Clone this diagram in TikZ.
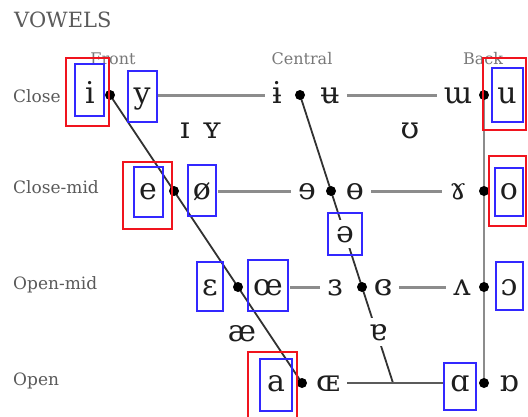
\documentclass[tikz,border=0pt]{standalone}
\usepackage{fontspec}
\setmainfont{DejaVu Serif}
\pgfdeclarelayer{bg}
\pgfsetlayers{bg,main}
\definecolor{ink}{RGB}{30,30,30}
\definecolor{labgray}{RGB}{90,90,90}
\definecolor{headgray}{RGB}{120,120,120}
\definecolor{linegray}{RGB}{140,140,140}
\definecolor{darkline}{RGB}{50,50,50}
\definecolor{boxred}{RGB}{240,20,30}
\definecolor{boxblue}{RGB}{50,40,255}
\tikzset{
  ipa/.style={font=\fontsize{30}{30}\selectfont, text=ink, anchor=base, inner xsep=7pt, inner ysep=2pt},
  ipaw/.style={ipa, fill=white, inner xsep=2pt, inner ysep=6pt},
  rowlab/.style={font=\fontsize{17}{17}\selectfont, text=labgray, anchor=mid west, inner sep=0pt},
  collab/.style={font=\fontsize{16}{16}\selectfont, text=headgray, anchor=base, inner sep=0pt},
  vdot/.style={circle, fill=black, inner sep=0pt, minimum size=10pt},
  hline/.style={draw=linegray, line width=3pt},
  openline/.style={draw=darkline!80, line width=2pt},
  slant/.style={draw=darkline, line width=1.8pt},
  backline/.style={draw=linegray, line width=2.6pt},
  redbox/.style={draw=boxred, line width=2.5pt},
  bluebox/.style={draw=boxblue, line width=2.5pt}
}
\begin{document}
\begin{tikzpicture}[x=1pt,y=-1pt]
\begin{pgfonlayer}{bg}
\fill[white] (0,0) rectangle (528,416);
\end{pgfonlayer}
\useasboundingbox (0,0) rectangle (528,416);

% title and axis labels
\node[font=\fontsize{21}{21}\selectfont, text=labgray, anchor=base west, inner sep=0pt] (title) at (14,27) {VOWELS};
\node[collab] (hfront) at (113,64) {Front};
\node[collab] (hcentral) at (302,64) {Central};
\node[collab] (hback) at (483,64) {Back};
\node[rowlab] (rclose) at (13,100) {Close};
\node[rowlab] (rclosemid) at (13,191) {Close-mid};
\node[rowlab] (ropenmid) at (13,287) {Open-mid};
\node[rowlab] (ropen) at (13,383) {Open};

% positions of the dots on the trapezoid
\coordinate (f1) at (110,95);
\coordinate (f2) at (174,191);
\coordinate (f3) at (238,287);
\coordinate (f4) at (302,383);
\coordinate (c1) at (300,95);
\coordinate (c2) at (331,191);
\coordinate (c3) at (362,287);
\coordinate (c4) at (393,383);
\coordinate (b1) at (484,95);
\coordinate (b2) at (484,191);
\coordinate (b3) at (484,287);
\coordinate (b4) at (484,383);

% close
\node[ipa] (vi) at (90,103) {i};
\node[ipa] (vy) at (142,103) {y};
\node[ipa] (vibar) at (277,103) {ɨ};
\node[ipa] (vubar) at (330,103) {ʉ};
\node[ipa] (vturnm) at (458,103) {ɯ};
\node[ipa] (vu) at (507,103) {u};
% near-close
\node[ipa] (vsmallcapi) at (185,138) {ɪ};
\node[ipa] (vsmallcapy) at (212,138) {ʏ};
\node[ipa] (vupsilon) at (410,138) {ʊ};
% close-mid
\node[ipa] (ve) at (148,199) {e};
\node[ipa] (voslash) at (202,199) {ø};
\node[ipa] (vreve) at (307,199) {ɘ};
\node[ipa] (vbaro) at (355,199) {ɵ};
\node[ipa] (vramshorn) at (458,199) {ɤ};
\node[ipa] (vo) at (509,199) {o};
% mid
\node[ipaw] (vschwa) at (345,242) {ə};
% open-mid
\node[ipa] (veps) at (210,295) {ɛ};
\node[ipa] (voe) at (268,295) {œ};
\node[ipa] (vreveps) at (335,295) {ɜ};
\node[ipa] (vclreveps) at (383,295) {ɞ};
\node[ipa] (vturnv) at (462,295) {ʌ};
\node[ipa] (vopeno) at (509,295) {ɔ};
% near-open
\node[ipa] (vash) at (242,341) {æ};
\node[ipaw] (vturna) at (378,340) {ɐ};
% open
\node[ipa] (va) at (276,391) {a};
\node[ipa] (vOE) at (328,391) {ɶ};
\node[ipa] (valpha) at (460,391) {ɑ};
\node[ipa] (vturnalpha) at (509,391) {ɒ};

% connectors of the chart
\begin{pgfonlayer}{bg}
\draw[slant] (f1) -- (f4);
\draw[slant] (c1) -- (c4);
\draw[backline] (b1) -- (b4);
\draw[hline] (vy.east |- f1) -- (vibar.west |- f1);
\draw[hline] (vubar.east |- c1) -- (vturnm.west |- c1);
\draw[hline] (voslash.east |- f2) -- (vreve.west |- f2);
\draw[hline] (vbaro.east |- c2) -- (vramshorn.west |- c2);
\draw[hline] (voe.east |- f3) -- (vreveps.west |- f3);
\draw[hline] (vclreveps.east |- c3) -- (vturnv.west |- c3);
\draw[openline] (vOE.east |- f4) -- (valpha.west |- f4);
\end{pgfonlayer}

% dots
\foreach \p in {f1,f2,f3,f4,c1,c2,c3,b1,b2,b3,b4}
  \node[vdot] (dot\p) at (\p) {};

% highlight boxes
\draw[redbox] (66,58) rectangle (109,126);
\draw[redbox] (483,58) rectangle (526,130);
\draw[redbox] (123,162) rectangle (172,229);
\draw[redbox] (489,156) rectangle (526,226);
\draw[redbox] (248,352) rectangle (297,420);
\draw[bluebox] (75,64) rectangle (104,116);
\draw[bluebox] (128,71) rectangle (157,122);
\draw[bluebox] (492,68) rectangle (523,122);
\draw[bluebox] (134,167) rectangle (163,217);
\draw[bluebox] (188,165) rectangle (216,216);
\draw[bluebox] (495,168) rectangle (523,216);
\draw[bluebox] (328,213) rectangle (362,255);
\draw[bluebox] (197,262) rectangle (223,311);
\draw[bluebox] (248,260) rectangle (288,311);
\draw[bluebox] (496,262) rectangle (523,310);
\draw[bluebox] (260,359) rectangle (292,411);
\draw[bluebox] (444,363) rectangle (476,410);
\end{tikzpicture}
\end{document}
